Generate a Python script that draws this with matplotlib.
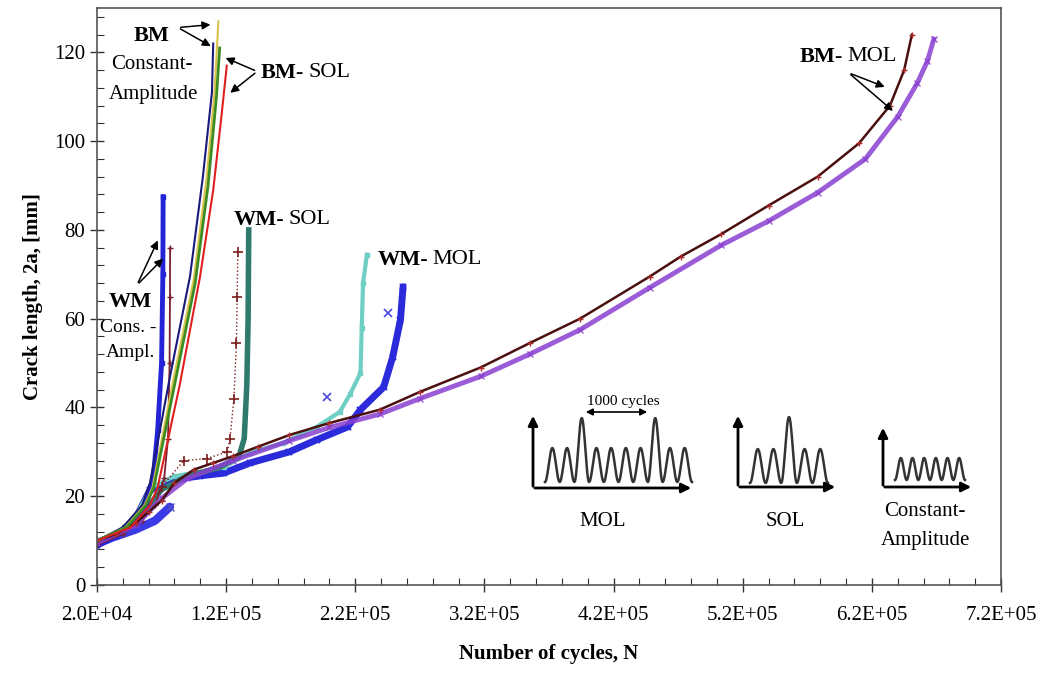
import numpy as np
import matplotlib
matplotlib.use("Agg")
import matplotlib.pyplot as plt
from matplotlib.ticker import MultipleLocator, FixedLocator, FuncFormatter

plt.rcParams['font.family'] = ['Liberation Serif', 'DejaVu Serif']

# ---- data (cycles, crack length mm) ----
bm_mol_x = [2.0e4, 3.5e4, 5.0e4, 6.0e4, 7.0e4, 8.0e4, 9.5e4, 1.1e5, 1.25e5, 1.45e5, 1.69e5, 2.0e5,
            2.39e5, 2.70e5, 3.17e5, 3.55e5, 3.94e5, 4.48e5, 4.72e5, 5.03e5, 5.40e5, 5.78e5,
            6.10e5, 6.34e5, 6.45e5, 6.51e5]
bm_mol_y = [10, 11.5, 14, 16.5, 19, 23, 26, 27.5, 29, 31.2, 33.8, 36.5,
            39.5, 43.5, 49, 54.5, 60, 69.5, 74, 79, 85.5, 92,
            99.5, 108, 116, 124]

bm_mol2_x = [2.0e4, 5.0e4, 7.0e4, 9.0e4, 1.25e5, 1.69e5, 2.0e5, 2.39e5, 2.70e5, 3.17e5,
             3.55e5, 3.94e5, 4.48e5, 5.03e5, 5.40e5, 5.78e5, 6.15e5, 6.40e5, 6.55e5, 6.63e5, 6.68e5]
bm_mol2_y = [9.5, 13.5, 19.5, 24, 28, 32.5, 35.5, 38.5, 42, 47,
             52, 57.5, 67, 76.5, 82, 88.4, 96, 105.5, 113, 118, 123]

bm_ca1_x = [2.0e4, 4.0e4, 5.5e4, 6.1e4, 7.65e4, 9.2e4, 1.02e5, 1.09e5, 1.10e5]
bm_ca1_y = [10, 13, 18, 23, 46.9, 69.5, 92, 111, 122]
bm_ca2_x = [2.0e4, 4.2e4, 5.7e4, 6.3e4, 7.9e4, 9.5e4, 1.05e5, 1.11e5, 1.14e5]
bm_ca2_y = [10, 13, 18, 22, 46, 69, 92, 111, 127]

bm_sol1_x = [2.0e4, 4.3e4, 5.8e4, 6.4e4, 8.0e4, 9.6e4, 1.06e5, 1.125e5, 1.15e5]
bm_sol1_y = [10, 13, 18, 22, 45, 68, 90, 110, 121]
bm_sol2_x = [2.0e4, 4.6e4, 6.1e4, 6.7e4, 8.4e4, 9.98e4, 1.10e5, 1.165e5, 1.205e5]
bm_sol2_y = [10, 13, 18, 22, 45, 69.5, 89, 106, 117]

wm_ca1_x = [2.0e4, 3.5e4, 5.0e4, 5.8e4, 6.34e4, 6.7e4, 7.0e4, 7.1e4, 7.12e4]
wm_ca1_y = [9, 11, 14, 18, 23.7, 35, 50, 70, 87.5]
wm_ca2_x = [2.0e4, 4.0e4, 5.5e4, 6.5e4, 7.2e4, 7.5e4, 7.62e4, 7.65e4, 7.66e4]
wm_ca2_y = [9, 11.5, 14.5, 18, 24, 33, 50, 65, 76]
wm_ca3_x = [2.0e4, 3.5e4, 5.0e4, 6.5e4, 7.65e4]
wm_ca3_y = [9.5, 11, 12.5, 14.5, 17.6]

wm_sol1_x = [2.0e4, 4.0e4, 5.5e4, 7.0e4, 8.7e4, 1.05e5, 1.21e5, 1.23e5, 1.26e5, 1.28e5, 1.285e5, 1.29e5]
wm_sol1_y = [10, 12.5, 16, 22, 28, 28.5, 30, 33, 42, 54.6, 65, 75]
wm_sol2_x = [2.0e4, 4.0e4, 5.5e4, 7.0e4, 9.0e4, 1.15e5, 1.30e5, 1.34e5, 1.36e5, 1.37e5, 1.375e5]
wm_sol2_y = [9.5, 12, 16, 21.5, 24.5, 26.5, 29, 33, 45, 60, 80]

wm_mol1_x = [2.0e4, 3.5e4, 5.0e4, 6.1e4, 7.9e4, 1.0e5, 1.18e5, 1.385e5, 1.69e5, 1.90e5, 2.14e5,
             2.24e5, 2.42e5, 2.49e5, 2.55e5, 2.57e5]
wm_mol1_y = [9, 11, 15, 21.4, 23.7, 24.6, 25.2, 27.5, 30, 32.7, 35.6,
             39.5, 44.6, 51.4, 59.8, 67.2]
wm_mol1_stray_x = [1.98e5, 2.45e5]
wm_mol1_stray_y = [42.4, 61.3]
wm_mol2_x = [2.0e4, 3.5e4, 5.0e4, 6.2e4, 8.0e4, 1.18e5, 1.385e5, 1.64e5, 1.90e5, 2.08e5, 2.16e5,
             2.24e5, 2.25e5, 2.26e5, 2.29e5]
wm_mol2_y = [9.5, 11.5, 15.5, 22, 24.5, 26.5, 29.8, 32, 35.6, 39, 43,
             47.8, 58, 68, 74.4]

x_ticks = [2.0e4, 1.2e5, 2.2e5, 3.2e5, 4.2e5, 5.2e5, 6.2e5, 7.2e5]

fig = plt.figure(figsize=(10.52, 6.79), dpi=100)
ax = fig.add_axes([97 / 1052, 1 - 585 / 679, 904 / 1052, 577 / 679])

# WM series (drawn first, underneath)
ax.plot(wm_mol1_x, wm_mol1_y, color='#2b2bdc', lw=5, marker='x', ms=5, mew=1.5, solid_capstyle='round')
ax.plot(wm_mol1_stray_x, wm_mol1_stray_y, ls='none', color='#4a4ae0', marker='x', ms=6, mew=1.2)
ax.plot(wm_mol2_x, wm_mol2_y, color='#70cfc4', lw=3, marker='s', ms=3)
ax.plot(wm_ca3_x, wm_ca3_y, color='#3a3ae6', lw=6, solid_capstyle='round')
ax.plot(wm_ca3_x[-1:], wm_ca3_y[-1:], ls='none', color='#5050c0', marker='x', ms=6)
ax.plot(wm_sol2_x, wm_sol2_y, color='#2f7a6c', lw=4)
ax.plot(wm_sol1_x, wm_sol1_y, color='#7a1f1f', lw=1, ls=':', marker='+', ms=7, mew=1.2)
ax.plot(wm_ca1_x, wm_ca1_y, color='#2323d8', lw=3.5, marker='s', ms=2.5)
ax.plot(wm_ca2_x, wm_ca2_y, color='#7a2030', lw=1.3, marker='+', ms=4)

# BM series
ax.plot(bm_mol2_x, bm_mol2_y, color='#8a3fd0', lw=3.5, alpha=0.85, marker='x', ms=4, mew=1)
ax.plot(bm_mol_x, bm_mol_y, color='#4a0f0f', lw=1.8, marker='+', ms=5, mec='#b02828')
ax.plot(bm_ca1_x, bm_ca1_y, color='#1a1a7a', lw=1.5)
ax.plot(bm_ca2_x, bm_ca2_y, color='#d9c24a', lw=1.5)
ax.plot(bm_sol1_x, bm_sol1_y, color='#3c8c22', lw=2)
ax.plot(bm_sol2_x, bm_sol2_y, color='#e02020', lw=1.5)

# axes
ax.set_xlim(2.0e4, 7.2e5)
ax.set_ylim(0, 130)
ax.xaxis.set_major_locator(FixedLocator(x_ticks))
ax.xaxis.set_minor_locator(MultipleLocator(2e4))
ax.xaxis.set_major_formatter(FuncFormatter(lambda v, p: f"{v:.1E}"))
ax.yaxis.set_major_locator(MultipleLocator(20))
ax.yaxis.set_minor_locator(MultipleLocator(4))
ax.tick_params(which='major', direction='inout', length=10, width=1, labelsize=15, color='#333333')
ax.tick_params(which='minor', direction='in', length=5, width=0.8, color='#333333')
ax.tick_params(axis='x', pad=10)
ax.tick_params(right=False, top=False)
for s in ax.spines.values():
    s.set_color('#555555')
    s.set_linewidth(1.2)
ax.set_xlabel('Number of cycles, N', fontsize=15, fontweight='bold', labelpad=14)
ax.set_ylabel('Crack length, 2a, [mm]', fontsize=15, fontweight='bold', labelpad=8)


def two_part(x, y, bold, rest):
    t = ax.text(x, y, bold, fontsize=16, fontweight='bold', ha='left', va='center')
    ax.annotate(rest, xy=(1, 0.5), xycoords=t, xytext=(3, 0), textcoords='offset points',
                fontsize=16, va='center', ha='left')
    return t


# labels with arrows
arrow = dict(arrowstyle='-|>', color='black', lw=1.1, mutation_scale=12)
ax.text(6.26e4, 123.6, 'BM', fontsize=16, fontweight='bold', ha='center', va='center')
ax.text(6.26e4, 117.2, 'Constant-', fontsize=15, ha='center', va='center')
ax.text(6.34e4, 110.5, 'Amplitude', fontsize=15, ha='center', va='center')
ax.annotate('', xy=(1.10e5, 126.3), xytext=(8.27e4, 125.6), arrowprops=arrow)
ax.annotate('', xy=(1.10e5, 121.1), xytext=(8.27e4, 125.6), arrowprops=arrow)

two_part(1.47e5, 115.4, 'BM-', 'SOL')
ax.annotate('', xy=(1.176e5, 119), xytext=(1.44e5, 115.7), arrowprops=arrow)
ax.annotate('', xy=(1.215e5, 110.5), xytext=(1.44e5, 115.7), arrowprops=arrow)

two_part(1.26e5, 82.3, 'WM-', 'SOL')
two_part(2.37e5, 73.3, 'WM-', 'MOL')

ax.text(4.56e4, 63.8, 'WM', fontsize=16, fontweight='bold', ha='center', va='center')
ax.text(4.4e4, 58, 'Cons. -', fontsize=14, ha='center', va='center')
ax.text(4.56e4, 52.3, 'Ampl.', fontsize=14, ha='center', va='center')
ax.annotate('', xy=(6.8e4, 78.2), xytext=(5.1e4, 67.6), arrowprops=arrow)
ax.annotate('', xy=(7.27e4, 74), xytext=(5.1e4, 67.6), arrowprops=arrow)

two_part(5.64e5, 119, 'BM-', 'MOL')
ax.annotate('', xy=(6.32e5, 112), xytext=(6.02e5, 115.4), arrowprops=arrow)
ax.annotate('', xy=(6.38e5, 106.4), xytext=(6.02e5, 115.4), arrowprops=arrow)

# ---- loading schematics (decoration, drawn in pixel space) ----
ov = fig.add_axes([0, 0, 1, 1], facecolor='none')
ov.set_xlim(0, 1052)
ov.set_ylim(679, 0)
ov.axis('off')
sch = dict(arrowstyle='-|>', color='black', lw=2, mutation_scale=14)


def wave(x0, x1, base, heights):
    n = len(heights)
    xs, ys = [], []
    for i, h in enumerate(heights):
        t = np.linspace(0, 1, 30)
        xs.append(x0 + (x1 - x0) * (i + t) / n)
        ys.append(base - h * (1 - np.cos(2 * np.pi * t)) / 2)
    ov.plot(np.concatenate(xs), np.concatenate(ys), color='#333333', lw=1.8)


def axes_arrows(x0, y0, ytop, xright):
    ov.annotate('', xy=(x0, ytop), xytext=(x0, y0 + 1), arrowprops=sch)
    ov.annotate('', xy=(xright, y0), xytext=(x0 - 1, y0), arrowprops=sch)


mol_peaks = [34, 34, 64, 34, 34, 34, 34, 64, 34, 34]
sol_peaks = [34, 34, 66, 34, 34]
ca_peaks = [22, 22, 22, 22, 22, 22]

axes_arrows(533, 488, 413, 694)
wave(545, 692, 482, mol_peaks)
ov.annotate('', xy=(583, 412), xytext=(650, 412),
            arrowprops=dict(arrowstyle='<|-|>', color='black', lw=1.2, mutation_scale=10))
ov.text(623, 402, '1000 cycles', fontsize=11, ha='center', va='center')
ov.text(603, 521, 'MOL', fontsize=15, ha='center', va='center')

axes_arrows(738, 487, 413, 838)
wave(750, 828, 483, sol_peaks)
ov.text(785, 521, 'SOL', fontsize=15, ha='center', va='center')

axes_arrows(883, 487, 425, 974)
wave(895, 965, 480, ca_peaks)
ov.text(925, 512, 'Constant-', fontsize=15, ha='center', va='center')
ov.text(925, 540, 'Amplitude', fontsize=15, ha='center', va='center')

fig.savefig('out.png', dpi=100)
